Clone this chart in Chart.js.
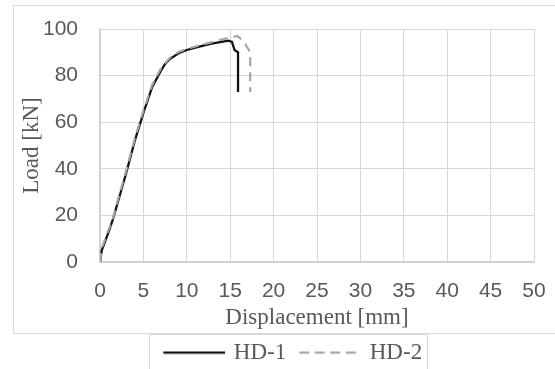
<!DOCTYPE html>
<html>
<head>
<meta charset="utf-8">
<script src="https://cdn.jsdelivr.net/npm/chart.js@4.4.1/dist/chart.umd.min.js"></script>
<style>
  html, body { margin: 0; padding: 0; background: #fff; }
  #wrap { width: 555px; height: 369px; position: relative; }
</style>
</head>
<body>
<div id="wrap"><canvas id="chart"></canvas></div>
<script>
// Данные кривых "нагрузка - перемещение"
const seriesNames = ['HD-1', 'HD-2'];

const hd1Disp = [0, 0.2, 0.5, 1, 1.5, 2, 3, 4, 5, 6, 7, 7.5, 8, 9, 10, 11, 12, 13, 14, 14.8, 15.2, 15.5, 15.9, 15.9];
const hd1Load = [0, 5, 8, 13, 18.5, 25, 38, 52, 64, 75, 82, 85, 87, 89.5, 91, 92, 93, 93.8, 94.5, 95, 94.5, 91, 90, 73];

const hd2Disp = [0, 0.2, 0.5, 1, 1.5, 2, 3, 4, 5, 6, 7, 8, 9, 10, 11, 12, 13, 14, 15, 15.8, 16.5, 17.3, 17.3];
const hd2Load = [0, 6, 9, 14, 19, 26, 39, 53, 65, 76, 83, 87.5, 90, 91.5, 92.5, 93.5, 94.5, 95.5, 96.3, 97, 95, 90, 73];

const toPoints = (xs, ys) => xs.map((x, i) => ({ x: x, y: ys[i] }));

const TEXT = '#595959';
const GRID = '#d9d9d9';
const SERIF = "'Liberation Serif', 'Times New Roman', serif";
const SANS = "'Liberation Sans', Arial, sans-serif";

// Образец линии для легенды (сплошной или пунктир), с пустым отступом слева
function lineSample(color, dash) {
  const c = document.createElement('canvas');
  c.width = 72;
  c.height = 6;
  const ctx = c.getContext('2d');
  ctx.strokeStyle = color;
  ctx.lineWidth = 2.25;
  ctx.setLineDash(dash);
  ctx.beginPath();
  ctx.moveTo(10, 3);
  ctx.lineTo(72, 3);
  ctx.stroke();
  return c;
}

const LEGEND_SHIFT = 6;

// Рамка вокруг всей диаграммы и вокруг легенды
const frames = {
  id: 'frames',
  afterLayout(chart) {
    // сдвигаем легенду немного вправо, как в оригинале
    chart.legend.left += LEGEND_SHIFT;
    chart.legend.right += LEGEND_SHIFT;
  },
  afterDraw(chart) {
    const { ctx, legend } = chart;
    ctx.save();
    ctx.lineWidth = 1;
    ctx.strokeStyle = GRID;
    ctx.strokeRect(13.5, 5.5, 560, 328);
    const hb = legend.legendHitBoxes;
    if (hb && hb.length) {
      const first = hb[0];
      const last = hb[hb.length - 1];
      const left = Math.round(first.left) - 7;
      const right = Math.round(last.left + last.width) + 5;
      ctx.strokeRect(left + 0.5, 334.5, right - left, 50);
    }
    ctx.restore();
  },
};

new Chart(document.getElementById('chart'), {
  type: 'scatter',
  data: {
    datasets: [
      {
        label: seriesNames[0],
        data: toPoints(hd1Disp, hd1Load),
        showLine: true,
        borderColor: '#111111',
        backgroundColor: '#111111',
        borderWidth: 2.25,
        pointRadius: 0,
        pointStyle: lineSample('#111111', []),
        order: 1,
      },
      {
        label: seriesNames[1],
        data: toPoints(hd2Disp, hd2Load),
        showLine: true,
        borderColor: '#a6a6a6',
        backgroundColor: '#a6a6a6',
        borderWidth: 2.25,
        borderDash: [9, 6],
        pointRadius: 0,
        pointStyle: lineSample('#a6a6a6', [10, 5.5]),
        order: 0,
      },
    ],
  },
  options: {
    responsive: true,
    maintainAspectRatio: false,
    animation: false,
    layout: {
      padding: { left: 14, right: 2.5, top: 0, bottom: -5 },
    },
    plugins: {
      tooltip: { enabled: false },
      legend: {
        position: 'bottom',
        labels: {
          usePointStyle: true,
          pointStyleWidth: 66,
          boxHeight: 6,
          color: TEXT,
          padding: 6,
          font: { family: SERIF, size: 23 },
          sort: (a, b) => a.datasetIndex - b.datasetIndex,
        },
      },
    },
    scales: {
      x: {
        type: 'linear',
        min: 0,
        max: 50,
        // правый отступ под подпись "50"
        afterFit(scale) {
          scale.paddingRight = 21;
        },
        ticks: {
          stepSize: 5,
          color: TEXT,
          padding: 16.4,
          font: { family: SANS, size: 21 },
        },
        grid: { color: GRID, lineWidth: 1, drawTicks: false },
        border: { color: '#cfcfcf', width: 1.5 },
        title: {
          display: true,
          text: 'Displacement [mm]',
          color: TEXT,
          padding: { top: -15.8, bottom: 3.2 },
          font: { family: SERIF, size: 23 },
        },
      },
      y: {
        min: 0,
        max: 100,
        // верхний отступ области графика
        afterFit(scale) {
          scale.paddingTop = 29;
        },
        ticks: {
          stepSize: 20,
          color: TEXT,
          padding: 22,
          font: { family: SANS, size: 21 },
        },
        grid: { color: GRID, lineWidth: 1, drawTicks: false },
        border: { color: '#cfcfcf', width: 1.5 },
        title: {
          display: true,
          text: 'Load [kN]',
          color: TEXT,
          padding: { top: 4, bottom: -24.6 },
          font: { family: SERIF, size: 23 },
        },
      },
    },
  },
  plugins: [frames],
});
</script>
</body>
</html>
